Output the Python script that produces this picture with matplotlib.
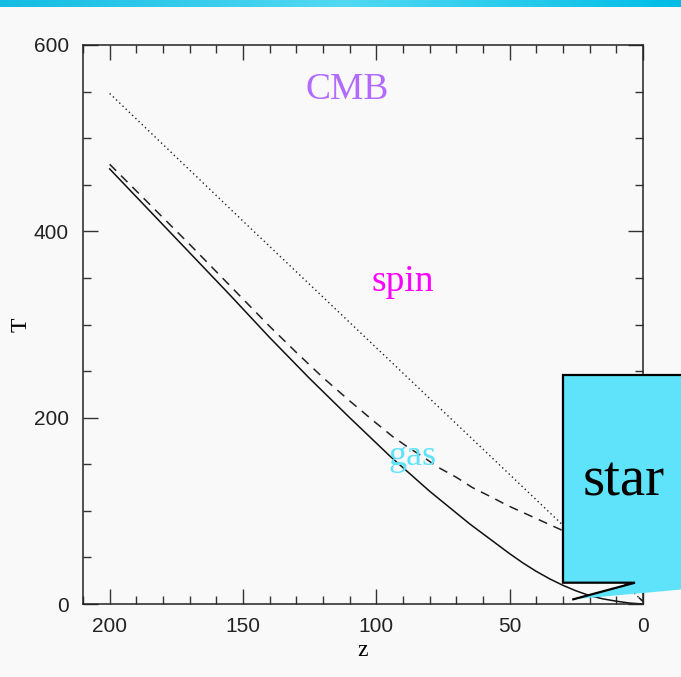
import numpy as np
import matplotlib
matplotlib.use("Agg")
import matplotlib.pyplot as plt
from matplotlib.colors import LinearSegmentedColormap
from matplotlib.patches import Polygon
from matplotlib.lines import Line2D

# temperatures (K) against redshift
z_cmb = [200, 150, 100, 50, 0]
t_cmb = [548, 411, 275, 139, 2.7]

z_gas = [200, 185, 170, 155, 140, 125, 110, 95, 80, 65, 50, 45, 40, 35, 30,
         25, 20, 15, 10, 5, 0]
t_gas = [467, 422, 377, 332, 286, 242, 200, 159, 121, 86, 54, 44, 35, 27, 20,
         14, 9, 5.5, 3, 1, 0]

z_spin = [200, 185, 170, 155, 140, 130, 120, 110, 100, 94, 88, 82, 77, 70, 64,
          57, 51, 41, 31, 25, 20, 10, 0]
t_spin = [472, 429, 386, 342, 298, 270, 243, 218, 194, 180, 168, 157, 147, 136,
          125, 115, 106, 93, 80, 72, 57, 30, 2.7]

z_ticks = [200, 150, 100, 50, 0]
t_ticks = [0, 200, 400, 600]

W, H = 681, 677
BG = "#f9f9f9"


def fx(px):
    return px / W


def fy(py):
    return 1 - py / H


fig = plt.figure(figsize=(W / 100, H / 100), dpi=100, facecolor=BG)

# gradient strip along the top edge
band = fig.add_axes([0, fy(7), 1, 7 / H])
band_cmap = LinearSegmentedColormap.from_list(
    "band", ["#14bce3", "#52d9f2", "#00bde6"])
band.imshow(np.linspace(0, 1, 256)[None, :], aspect="auto", cmap=band_cmap)
band.set_axis_off()

ax = fig.add_axes([fx(83), fy(604), (643 - 83) / W, (604 - 45) / H])
ax.set_facecolor(BG)

ax.plot(z_cmb, t_cmb, color="#222222", lw=1.0, linestyle=(0, (1, 2.2)))
ax.plot(z_spin, t_spin, color="#222222", lw=1.1, linestyle=(0, (6, 4.5)))
ax.plot(z_gas, t_gas, color="#111111", lw=1.1)

ax.set_xlim(210, 0)
ax.set_ylim(0, 600)
ax.set_xticks(z_ticks)
ax.set_xticks(np.arange(0, 211, 10), minor=True)
ax.set_yticks(t_ticks)
ax.set_yticks(np.arange(0, 601, 50), minor=True)

for s in ax.spines.values():
    s.set_linewidth(1.1)
    s.set_color("#222222")

ax.tick_params(which="both", direction="in", top=True, right=True,
               color="#333333", width=1.0)
ax.tick_params(which="major", length=11)
ax.tick_params(which="minor", length=5.5)
ax.tick_params(axis="x", pad=9)
ax.tick_params(axis="y", pad=10)
for lab in ax.get_xticklabels() + ax.get_yticklabels():
    lab.set_fontfamily("Liberation Sans")
    lab.set_fontsize(15)
    lab.set_color("#222222")

ax.set_xlabel("z", fontfamily="Liberation Serif", fontsize=17, labelpad=3)
ax.set_ylabel("T", fontfamily="Liberation Serif", fontsize=17, labelpad=2)

serif = dict(fontfamily="Liberation Serif", ha="center", va="baseline")
ax.text(110.9, 541.8, "CMB", color="#b36bff", fontsize=27, **serif)
ax.text(90.2, 336.2, "spin", color="#ff00ff", fontsize=27, **serif)
ax.text(86.4, 149.1, "gas", color="#5fe3fa", fontsize=26, zorder=5, **serif)

# callout box sitting over the low-z corner
tip = (573.3, 599.3)
shape = [(563, 375), (720, 375), (720, 586.0), tip, (635, 582.7), (563, 582.7)]
fig.add_artist(Polygon([(fx(x), fy(y)) for x, y in shape],
                       closed=True, transform=fig.transFigure,
                       facecolor="#5fe3fa", edgecolor="none", zorder=10))
edge = [(720, 375), (563, 375), (563, 582.7), (635, 582.7), tip]
fig.add_artist(Line2D([fx(x) for x, _ in edge], [fy(y) for _, y in edge],
                      transform=fig.transFigure, color="black", lw=1.6,
                      solid_joinstyle="miter", zorder=11))
fig.text(fx(624), fy(495), "star", fontfamily="Liberation Serif",
         fontsize=41, ha="center", va="baseline", color="black", zorder=12)

fig.savefig("out.png", dpi=100, facecolor=BG)
